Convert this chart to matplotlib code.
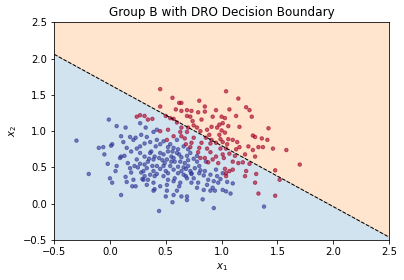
import numpy as np
import matplotlib
matplotlib.use("Agg")
import matplotlib.pyplot as plt

# group B samples
blue_x = [-0.01, 0.06, 0.14, 0.27, 0.23, 0.39, 0.42, 0.32, -0.30, -0.10, -0.06, -0.05, 0.01, 0.02,
          0.10, 0.18, 0.21, 0.28, 0.15, 0.19, 0.24, 0.27, 0.31, 0.36, 0.41, 0.45, 0.48, 0.54, 0.57,
          0.61, 0.66, 0.10, 0.13, -0.02, 0.06, 0.18, 0.22, 0.27, 0.31, 0.34, 0.39, 0.44, 0.48, 0.52,
          0.55, 0.60, 0.64, 0.69, 0.72, 0.75, 0.78, -0.19, 0.00, 0.02, 0.14, 0.19, 0.21, 0.20, 0.23,
          0.29, 0.31, 0.36, 0.39, 0.42, 0.48, 0.52, 0.57, 0.61, 0.64, 0.68, 0.73, 0.76, 0.81, 0.84,
          0.90, 0.96, 0.99, 1.01, 0.10, 0.30, 0.33, 0.39, 0.45, 0.51, 0.57, 0.63, 0.69, 0.73, 0.79,
          0.87, 0.93, 0.97, 1.10, 0.39, 0.40, 0.51, 0.57, 0.60, 0.64, 0.69, 0.69, 0.56, 0.83, 0.44,
          0.93, 1.38, 0.90, 0.94, 1.01, 1.04, 1.08, 0.84, 0.78, 0.36, 0.42, 0.49, 0.54, 0.58, 0.63,
          0.67, 0.70, 0.73, 0.33, 0.45, 0.28, 0.24, 0.16, 0.09, 0.27, 0.31, 0.37, 0.40, 0.51, 0.57,
          0.61, 0.66, 0.72, 0.52, 0.48, 0.34, 0.35, 0.45, 0.55, 0.62, 0.70, 0.80, 0.85, 0.66, 0.50,
          0.40, 0.30, 0.58, 0.75, 0.88, 0.47, 0.38, 0.25, 0.60, 0.52, 0.42, 0.33, 0.70, 0.78, 0.86,
          0.95, 1.05, 0.92, 0.62, 0.50, 0.15, 0.05, 0.12, 0.80, 0.68, 0.56]
blue_y = [1.16, 1.07, 1.05, 1.11, 0.91, 0.99, 1.02, 1.05, 0.87, 0.77, 0.78, 0.68, 0.80, 0.82,
          0.93, 0.92, 0.88, 0.95, 0.77, 0.72, 0.76, 0.79, 0.83, 0.85, 0.79, 0.82, 0.86, 0.82, 0.77,
          0.75, 0.79, 0.65, 0.66, 0.55, 0.52, 0.49, 0.52, 0.55, 0.54, 0.58, 0.61, 0.63, 0.68, 0.72,
          0.65, 0.70, 0.64, 0.66, 0.70, 0.62, 0.58, 0.41, 0.35, 0.29, 0.37, 0.43, 0.33, 0.24, 0.24,
          0.34, 0.38, 0.40, 0.45, 0.41, 0.38, 0.42, 0.47, 0.51, 0.45, 0.48, 0.42, 0.49, 0.46, 0.39,
          0.40, 0.38, 0.34, 0.42, 0.12, 0.33, 0.26, 0.29, 0.24, 0.26, 0.31, 0.29, 0.35, 0.29, 0.29,
          0.26, 0.31, 0.29, 0.28, 0.18, 0.20, 0.18, 0.12, 0.18, 0.10, 0.10, 0.05, 0.02, 0.06, -0.10,
          -0.06, -0.04, 0.18, 0.18, 0.19, 0.17, 0.14, 0.19, 0.22, 0.70, 0.52, 0.56, 0.52, 0.58, 0.58,
          0.56, 0.52, 0.41, 0.49, 0.48, 0.43, 0.61, 0.56, 0.63, 0.70, 0.65, 0.72, 0.65, 0.61, 0.63,
          0.42, 0.40, 0.45, 0.33, 0.52, 0.33, 0.62, 0.70, 0.58, 0.68, 0.60, 0.52, 0.45, 0.50, 0.45,
          0.38, 0.45, 0.35, 0.35, 0.33, 0.60, 0.52, 0.50, 0.88, 0.78, 0.88, 0.92, 0.75, 0.66, 0.58,
          0.47, 0.30, 0.22, 0.24, 0.10, 0.30, 0.45, 0.85, 0.42, 0.38, 0.72]

red_x = [0.45, 1.04, 0.56, 0.80, 1.15, 0.62, 0.64, 0.85, 0.95, 1.07, 1.22, 0.45, 1.25, 0.59,
         0.64, 0.69, 0.73, 0.79, 0.85, 0.69, 0.72, 0.92, 1.00, 1.03, 1.13, 1.27, 0.24, 0.27, 0.31,
         0.34, 0.38, 0.50, 0.54, 0.57, 0.74, 0.82, 0.60, 0.98, 1.01, 1.06, 1.16, 0.75, 0.64, 0.70,
         0.78, 0.87, 0.91, 0.96, 1.00, 1.42, 0.45, 0.52, 0.63, 0.69, 0.81, 0.89, 0.98, 1.03, 0.57,
         0.64, 0.75, 0.86, 0.91, 0.99, 1.06, 1.10, 1.14, 1.28, 1.30, 1.36, 1.41, 0.51, 0.67, 0.73,
         0.82, 0.90, 0.95, 1.01, 1.05, 1.16, 1.24, 1.33, 1.37, 1.46, 1.58, 1.28, 1.13, 0.72, 0.80,
         0.87, 0.99, 1.04, 0.79, 0.90, 1.01, 1.02, 1.07, 1.12, 1.21, 1.30, 0.95, 0.85, 0.92, 0.97,
         1.10, 1.15, 1.19, 1.25, 0.88, 1.70, 1.03, 1.04, 1.07, 1.10, 1.22, 1.31, 1.48, 1.21, 1.52,
         1.30, 1.04, 1.33, 1.48, 0.68, 0.81]
red_y = [1.58, 1.55, 1.46, 1.42, 1.45, 1.39, 1.39, 1.34, 1.29, 1.30, 1.33, 1.34, 1.29, 1.30,
         1.28, 1.29, 1.28, 1.26, 1.27, 1.21, 1.20, 1.20, 1.20, 1.18, 1.21, 1.20, 1.20, 1.22, 1.21,
         1.16, 1.17, 1.21, 1.18, 1.17, 1.14, 1.16, 1.12, 1.09, 1.11, 1.07, 1.06, 1.08, 1.05, 1.05,
         1.05, 1.02, 1.06, 1.05, 1.01, 1.04, 1.00, 1.02, 0.99, 0.99, 1.00, 0.95, 0.95, 0.98, 0.93,
         0.93, 0.91, 0.91, 0.88, 0.89, 0.89, 0.88, 0.85, 0.94, 0.92, 0.90, 0.88, 0.88, 0.90, 0.84,
         0.84, 0.83, 0.84, 0.85, 0.82, 0.78, 0.79, 0.78, 0.78, 0.76, 0.74, 0.74, 0.75, 0.78, 0.77,
         0.76, 0.76, 0.76, 0.71, 0.71, 0.68, 0.63, 0.69, 0.66, 0.68, 0.65, 0.65, 0.63, 0.61, 0.56,
         0.58, 0.56, 0.57, 0.55, 0.57, 0.54, 0.48, 0.42, 0.45, 0.47, 0.45, 0.41, 0.46, 0.38, 0.33,
         0.29, 0.38, 0.14, 0.11, 0.82, 0.63]

# DRO model: w1*x1 + w2*x2 + b = 0
w = [0.84, 1.0]
b = -1.64

X = np.array(blue_x + red_x)
Y = np.array(blue_y + red_y)
labels = np.array([0] * len(blue_x) + [1] * len(red_x))

fig, ax = plt.subplots(figsize=(404 / 72, 280 / 72), dpi=72)
fig.subplots_adjust(left=0.134, right=0.963, top=0.92, bottom=0.143)

xx, yy = np.meshgrid(np.linspace(-0.5, 2.5, 300), np.linspace(-0.5, 2.5, 300))
Z = (w[0] * xx + w[1] * yy + b > 0).astype(int)
ax.contourf(xx, yy, Z, levels=[-0.5, 0.5, 1.5], colors=['tab:blue', 'tab:orange'], alpha=0.2)

ax.scatter(X, Y, c=labels, cmap='RdYlBu_r', s=12, alpha=0.6)

lx = np.array([-0.5, 2.5])
ax.plot(lx, -(w[0] * lx + b) / w[1], 'k--', linewidth=1)

ax.set_xlim(-0.5, 2.5)
ax.set_ylim(-0.5, 2.5)
ax.set_xlabel('$x_1$')
ax.set_ylabel('$x_2$')
ax.set_title('Group B with DRO Decision Boundary')

fig.savefig('out.png', dpi=72)
